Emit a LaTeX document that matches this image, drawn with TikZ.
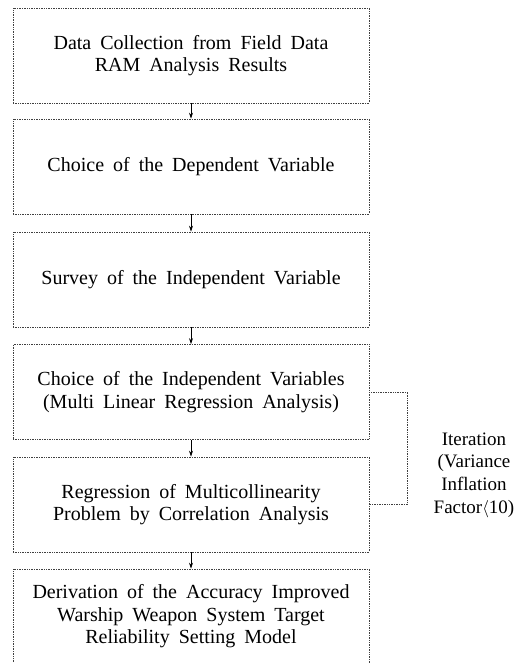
\documentclass[tikz,border=0pt]{standalone}
\usepackage{fontspec}
\setmainfont{Liberation Serif}
\usetikzlibrary{arrows.meta}
\newcommand{\boxfont}{\fontsize{20}{22.5}\selectfont\spaceskip=0.45em plus 0.1em}
\newcommand{\iterfont}{\fontsize{19}{22.7}\selectfont}

\begin{document}
\begin{tikzpicture}[x=1pt,y=1pt,
    stepbox/.style={draw=black!75, densely dotted, line width=0.7pt, minimum width=356pt, minimum height=95pt, align=center, font=\boxfont, inner sep=0pt},
    loopline/.style={draw=black!75, densely dotted, line width=0.7pt}]
    \useasboundingbox (0,0) rectangle (523,663);
    \node[stepbox] (collect) at (191,607.5) {Data Collection from Field Data\\RAM Analysis Results};
    \node[stepbox] (depvar) at (191,496.5) {Choice of the Dependent Variable};
    \node[stepbox] (survey) at (191,383.5) {Survey of the Independent Variable};
    \node[stepbox] (indvar) at (191,271) {Choice of the Independent Variables\\(Multi Linear Regression Analysis)};
    \node[stepbox] (regress) at (191,158.5) {Regression of Multicollinearity\\Problem by Correlation Analysis};
    \node[stepbox] (model) at (191,46.5) {Derivation of the Accuracy Improved\\Warship Weapon System Target\\Reliability Setting Model};
    \node[align=center, font=\iterfont, inner sep=0pt] (iter) at (474,188) {Iteration\\(Variance\\Inflation\\Factor$\langle$10)};
    \draw[-{Stealth[length=6pt,width=4pt]}, line width=0.7pt] (collect) edge (depvar) (depvar) edge (survey) (survey) edge (indvar) (indvar) edge (regress) (regress) edge (model);
    \draw[loopline] (indvar.east) -- ++(38,0) |- (regress.east);
\end{tikzpicture}
\end{document}
